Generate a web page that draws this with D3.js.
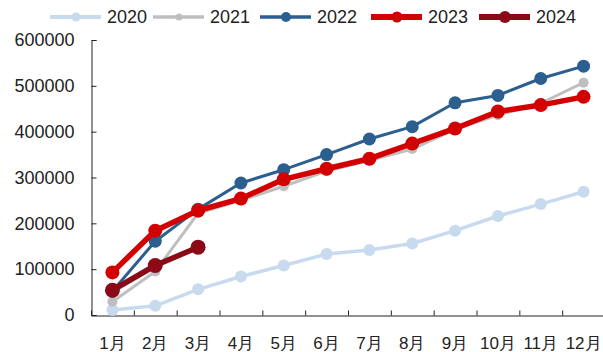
<!DOCTYPE html>
<html>
<head>
<meta charset="utf-8">
<script src="https://cdn.jsdelivr.net/npm/d3@7"></script>
<style>
  body { margin: 0; background: #fff; }
  text { font-family: "Liberation Sans", Arial, sans-serif; fill: #222; }
</style>
</head>
<body>
<div class="chart"></div>
<script>
// data
var months = ["1月", "2月", "3月", "4月", "5月", "6月", "7月", "8月", "9月", "10月", "11月", "12月"];
var yTicks = [0, 100000, 200000, 300000, 400000, 500000, 600000];
var v2020 = [11000, 20000, 56000, 84000, 108000, 133000, 142000, 156000, 184000, 216000, 242000, 269000];
var v2021 = [29000, 95000, 222000, 250000, 281000, 314000, 337000, 362000, 405000, 436000, 462000, 507000];
var v2022 = [52000, 161000, 231000, 288000, 317000, 350000, 384000, 411000, 463000, 479000, 516000, 543000];
var v2023 = [93000, 184000, 228000, 254000, 296000, 319000, 341000, 374000, 407000, 444000, 458000, 476000];
var v2024 = [54000, 108000, 148000];

var svgWidth = 603;
var svgHeight = 352;
var margin = {top: 40, right: -2, bottom: 37, left: 91};
var width = svgWidth - margin.left - margin.right;
var height = svgHeight - margin.top - margin.bottom;

var series = [
  {name: "2020", values: v2020, color: "#c8dbee", lw: 3.5, r: 6},
  {name: "2021", values: v2021, color: "#bfbfbf", lw: 3, r: 5},
  {name: "2022", values: v2022, color: "#2b5f8f", lw: 3, r: 6.5},
  {name: "2023", values: v2023, color: "#d20000", lw: 5.5, r: 7},
  {name: "2024", values: v2024, color: "#8a0a16", lw: 5.5, r: 7.5}
];

var svg = d3.select(".chart")
  .append("svg")
  .attr("width", svgWidth)
  .attr("height", svgHeight);

var chart = svg.append("g")
  .attr("transform", "translate(" + margin.left + "," + margin.top + ")");

var x = d3.scaleBand().domain(months).range([0, width]);
var y = d3.scaleLinear().domain([0, 600000]).range([height, 0]);

// y axis, ticks pointing inward
var leftAxis = d3.axisLeft(y)
  .tickValues(yTicks)
  .tickFormat(d3.format("d"))
  .tickSize(-5)
  .tickSizeOuter(-5)
  .tickPadding(17);

chart.append("g")
  .attr("transform", "translate(0.5,0)")
  .call(leftAxis)
  .call(function(g) {
    g.select(".domain").attr("stroke", "#222");
    g.selectAll(".tick line").attr("stroke", "#222");
    g.selectAll("text").style("font-size", "18px").attr("fill", "#222");
  });

// x axis labels
var bottomAxis = d3.axisBottom(x).tickSize(0).tickPadding(22);
chart.append("g")
  .attr("transform", "translate(0," + height + ")")
  .call(bottomAxis)
  .call(function(g) {
    g.select(".domain").remove();
    g.selectAll("text").style("font-size", "17px").attr("fill", "#222");
  });

// x axis line with ticks at the band edges
var xEdge = d3.scaleLinear().domain([0, months.length]).range([0, width]);
chart.append("g")
  .attr("transform", "translate(0," + (height + 0.5) + ")")
  .call(d3.axisBottom(xEdge).ticks(months.length).tickSize(-5).tickSizeOuter(0).tickFormat(""))
  .call(function(g) {
    g.select(".domain").attr("stroke", "#222");
    g.selectAll(".tick line").attr("stroke", "#222");
  });

var line = d3.line()
  .x(function(d, i) { return x(months[i]) + x.bandwidth() / 2; })
  .y(function(d) { return y(d); });

series.forEach(function(s) {
  var g = chart.append("g");
  g.append("path")
    .datum(s.values)
    .attr("fill", "none")
    .attr("stroke", s.color)
    .attr("stroke-width", s.lw)
    .attr("stroke-linejoin", "round")
    .attr("d", line);
  g.selectAll("circle")
    .data(s.values)
    .enter()
    .append("circle")
    .attr("cx", function(d, i) { return x(months[i]) + x.bandwidth() / 2; })
    .attr("cy", function(d) { return y(d); })
    .attr("r", s.r)
    .attr("fill", s.color);
});

// legend
var legendX = [50, 153, 260, 371, 479];
var legend = svg.append("g").attr("transform", "translate(0,17)");
series.forEach(function(s, i) {
  var item = legend.append("g").attr("transform", "translate(" + legendX[i] + ",0)");
  item.append("line")
    .attr("x1", 0).attr("x2", 51)
    .attr("stroke", s.color)
    .attr("stroke-width", s.lw + 0.5);
  item.append("circle")
    .attr("cx", 26).attr("r", s.r - 1.5)
    .attr("fill", s.color);
  item.append("text")
    .attr("x", 57)
    .attr("dy", "0.36em")
    .style("font-size", "18px")
    .text(s.name);
});
</script>
</body>
</html>
